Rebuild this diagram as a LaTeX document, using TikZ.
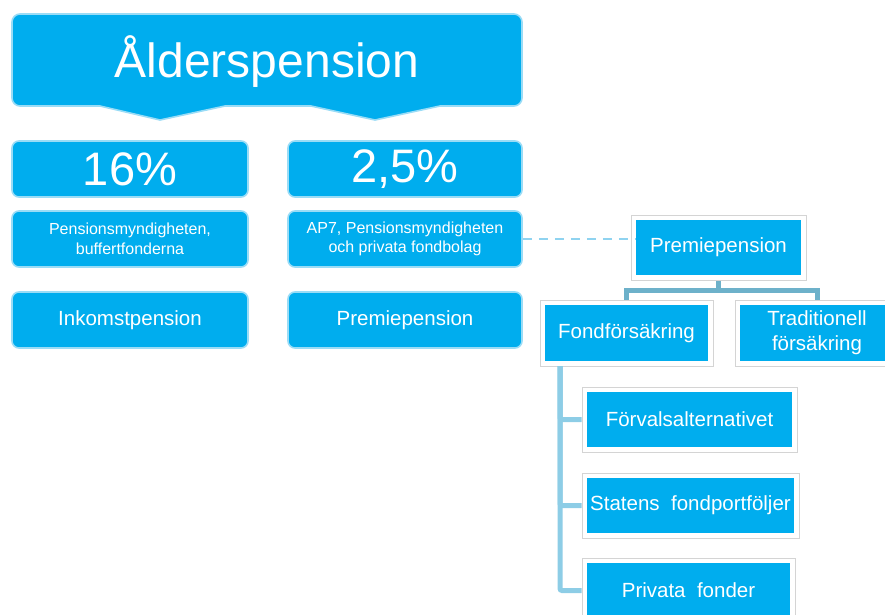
\documentclass[tikz,border=0pt]{standalone}
\usepackage{fontspec}
\setmainfont{Liberation Sans}
\definecolor{boxblue}{HTML}{00ADEE}
\definecolor{boxline}{HTML}{9ADCF6}
\definecolor{framegray}{HTML}{D4D4D4}
\definecolor{connA}{HTML}{6DB1CA}
\definecolor{connB}{HTML}{8DCDE6}
\definecolor{dashc}{HTML}{8FD3F0}
\tikzset{
  rbox/.style={draw=boxline, line width=1.6pt, fill=boxblue, rounded corners=7pt, text=white, inner sep=0pt, align=center},
  frame/.style={draw=framegray, line width=1pt, fill=white, inner sep=0pt},
  inbox/.style={fill=boxblue, draw=none, text=white, inner sep=0pt, align=center, font=\fontsize{20.5}{25}\selectfont},
  mid/.style={font=\fontsize{20.5}{25}\selectfont},
  small/.style={font=\fontsize{16}{19.5}\selectfont},
  big/.style={font=\fontsize{47}{55}\selectfont},
  connT/.style={draw=connA, line width=5pt},
  connS/.style={draw=connB, line width=5pt, rounded corners=2pt},
  dashl/.style={draw=dashc, line width=2pt, dash pattern=on 9pt off 7pt}
}
\begin{document}
\begin{tikzpicture}[x=1pt,y=-1pt]
\useasboundingbox (0,0) rectangle (885,614);
\clip (0,0) rectangle (885,614);
% title box with two pointers
\draw[rbox] (12,60) [rounded corners=8pt] -- (12,14) -- (522,14) -- (522,106) [sharp corners] -- (440,106) -- (375,120) -- (311,106) -- (225,106) -- (160,120) -- (100,106) [rounded corners=8pt] -- (12,106) -- cycle;
\node[text=white, font=\fontsize{48}{56}\selectfont] (title) at (267,62) {Ålderspension};
% left column
\node[rbox, big, minimum width=236pt, minimum height=56pt] (p16) at (130,169) {16\%};
\node[rbox, big, minimum width=234pt, minimum height=56pt] (p25) at (405,169) {2,5\%};
\node[rbox, small, minimum width=236pt, minimum height=56pt] (pm) at (130,239) {Pensionsmyndigheten,\\buffertfonderna};
\node[rbox, small, minimum width=234pt, minimum height=56pt] (ap) at (405,239) {AP7, Pensionsmyndigheten\\och privata fondbolag};
\node[rbox, mid, minimum width=236pt, minimum height=56pt] (ink) at (130,320) {Inkomstpension};
\node[rbox, mid, minimum width=234pt, minimum height=56pt] (prem) at (405,320) {Premiepension};
% tree
\node[frame, minimum width=175pt, minimum height=65pt] (ppF) at (718.5,247.5) {};
\node[inbox, minimum width=165pt, minimum height=55pt] (pp) at (718.5,247.5) {Premiepension};
\node[frame, minimum width=173pt, minimum height=66pt] (ffF) at (626.5,333) {};
\node[inbox, minimum width=163pt, minimum height=56pt] (ff) at (626.5,333) {Fondförsäkring};
\node[frame, minimum width=164pt, minimum height=66pt] (trF) at (817,333) {};
\node[inbox, minimum width=154pt, minimum height=56pt] (tr) at (817,333) {Traditionell\\försäkring};
\node[frame, minimum width=215pt, minimum height=65pt] (fvF) at (689.5,419.5) {};
\node[inbox, minimum width=205pt, minimum height=55pt] (fv) at (689.5,419.5) {Förvalsalternativet};
\node[frame, minimum width=217pt, minimum height=65pt] (sfF) at (690.5,505.5) {};
\node[inbox, minimum width=207pt, minimum height=55pt] (sf) at (690.5,505.5) {Statens\ \ fondportföljer};
\node[frame, minimum width=213pt, minimum height=65pt] (pfF) at (688.5,590.5) {};
\node[inbox, minimum width=203pt, minimum height=55pt] (pf) at (688.5,590.5) {Privata\ \ fonder};
% connectors
\draw[dashl] (ap.east) -- (ap.east -| pp.west);
\coordinate (bar) at (718.5,290);
\draw[connT] (ppF.south) -- (bar);
\draw[connT] (ffF.north) -- (ffF.north |- bar) -- (trF.north |- bar) -- (trF.north);
\coordinate (trunk) at (560,366);
\draw[connS] (trunk) |- (fvF.west);
\draw[connS] (trunk) |- (sfF.west);
\draw[connS] (trunk) |- (pfF.west);
\end{tikzpicture}
\end{document}
